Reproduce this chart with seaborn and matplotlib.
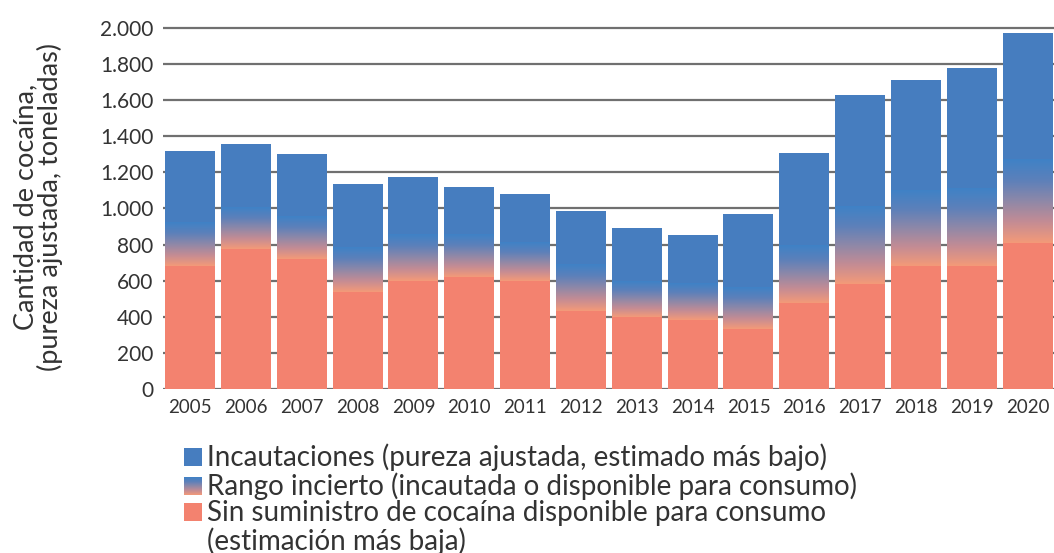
import numpy as np
import pandas as pd
import matplotlib.pyplot as plt
import seaborn as sns
from matplotlib.colors import LinearSegmentedColormap
from matplotlib.patches import Rectangle
from matplotlib.ticker import FuncFormatter

# ── DATA ────────────────────────────────────────────────────────────
years = [2005, 2006, 2007, 2008, 2009, 2010, 2011, 2012,
         2013, 2014, 2015, 2016, 2017, 2018, 2019, 2020]
# top of the salmon part (lowest estimate of supply available for consumption)
consumo_bajo = [683, 777, 720, 537, 598, 620, 598, 432,
                400, 382, 332, 478, 584, 683, 683, 811]
# top of the uncertain range
rango_alto = [923, 1008, 958, 783, 853, 853, 809, 687,
              598, 583, 562, 798, 1016, 1102, 1113, 1276]
# total bar height (seizures on top)
total = [1318, 1357, 1302, 1136, 1175, 1119, 1080, 986,
         892, 853, 968, 1307, 1629, 1712, 1778, 1972]

yticks = [0, 200, 400, 600, 800, 1000, 1200, 1400, 1600, 1800, 2000]
legend_labels = [
    "Incautaciones (pureza ajustada, estimado más bajo)",
    "Rango incierto (incautada o disponible para consumo)",
    "Sin suministro de cocaína disponible para consumo\n(estimación más baja)",
]

BLUE = "#467DBF"
SALMON = "#F3826F"
TXT = "#333333"
grad = LinearSegmentedColormap.from_list(
    "rango", ["#F49A78", "#C48C94", "#8E88A8", "#5C80BA", "#3F82C6"])

df = pd.DataFrame({"year": [str(y) for y in years], "low": consumo_bajo,
                   "mid": rango_alto, "total": total})

sns.set_theme(style="white")
plt.rcParams["font.family"] = ["Lato", "DejaVu Sans"]

fig = plt.figure(figsize=(10.54, 5.53), dpi=100)
ax = fig.add_axes([0.1547, 0.2966, 0.8450, 0.6593])

# blue: full bar
sns.barplot(data=df, x="year", y="total", color=BLUE, saturation=1,
            width=0.895, linewidth=0, ax=ax, zorder=2)
blue_bars = list(ax.patches)

# gradient: uncertain range, drawn over each blue bar
gimg = np.linspace(1, 0, 256).reshape(-1, 1)
for bar, lo, hi in zip(blue_bars, df["low"], df["mid"]):
    x0 = bar.get_x()
    ax.imshow(gimg, cmap=grad, aspect="auto", zorder=3,
              extent=(x0, x0 + bar.get_width(), lo, hi), interpolation="bilinear")

# salmon: lower estimate
sns.barplot(data=df, x="year", y="low", color=SALMON, saturation=1,
            width=0.895, linewidth=0, ax=ax, zorder=4)

ax.set_xlim(-0.483, 15.465)
ax.set_ylim(0, 2020)
ax.set_yticks(yticks)
ax.yaxis.set_major_formatter(FuncFormatter(lambda v, p: f"{int(v):,}".replace(",", ".")))
ax.yaxis.grid(True, color="#707070", linewidth=1.6, zorder=0)
ax.set_axisbelow(True)
for s in ax.spines.values():
    s.set_visible(False)
ax.tick_params(axis="y", labelsize=15, colors=TXT, length=0, pad=7)
ax.tick_params(axis="x", labelsize=13.5, colors=TXT, length=0, pad=7)
ax.set_xlabel("")
ax.set_ylabel("Cantidad de cocaína,\n(pureza ajustada, toneladas)",
              fontsize=19.5, color=TXT, linespacing=0.95)
ax.yaxis.set_label_coords(-0.112, 0.5)

# ── LEGEND (manual, to show the gradient swatch) ───────────────────
W, H = fig.get_size_inches() * fig.dpi
sw = 18
baselines = [466, 495, 521]
for i, (lab, yb) in enumerate(zip(legend_labels, baselines)):
    x0 = 184 / W
    y0 = 1 - yb / H
    if i == 1:
        sax = fig.add_axes([x0, y0, sw / W, sw / H])
        sax.imshow(gimg, cmap=grad, aspect="auto", interpolation="bilinear")
        sax.axis("off")
    else:
        fig.patches.append(Rectangle((x0, y0), sw / W, sw / H,
                                     transform=fig.transFigure, linewidth=0,
                                     color=BLUE if i == 0 else SALMON))
    for k, line in enumerate(lab.split("\n")):
        fig.text(207 / W, 1 - (yb + 29 * k) / H, line, fontsize=20, color=TXT,
                 va="baseline", ha="left")

fig.savefig("out.png", dpi=100)
